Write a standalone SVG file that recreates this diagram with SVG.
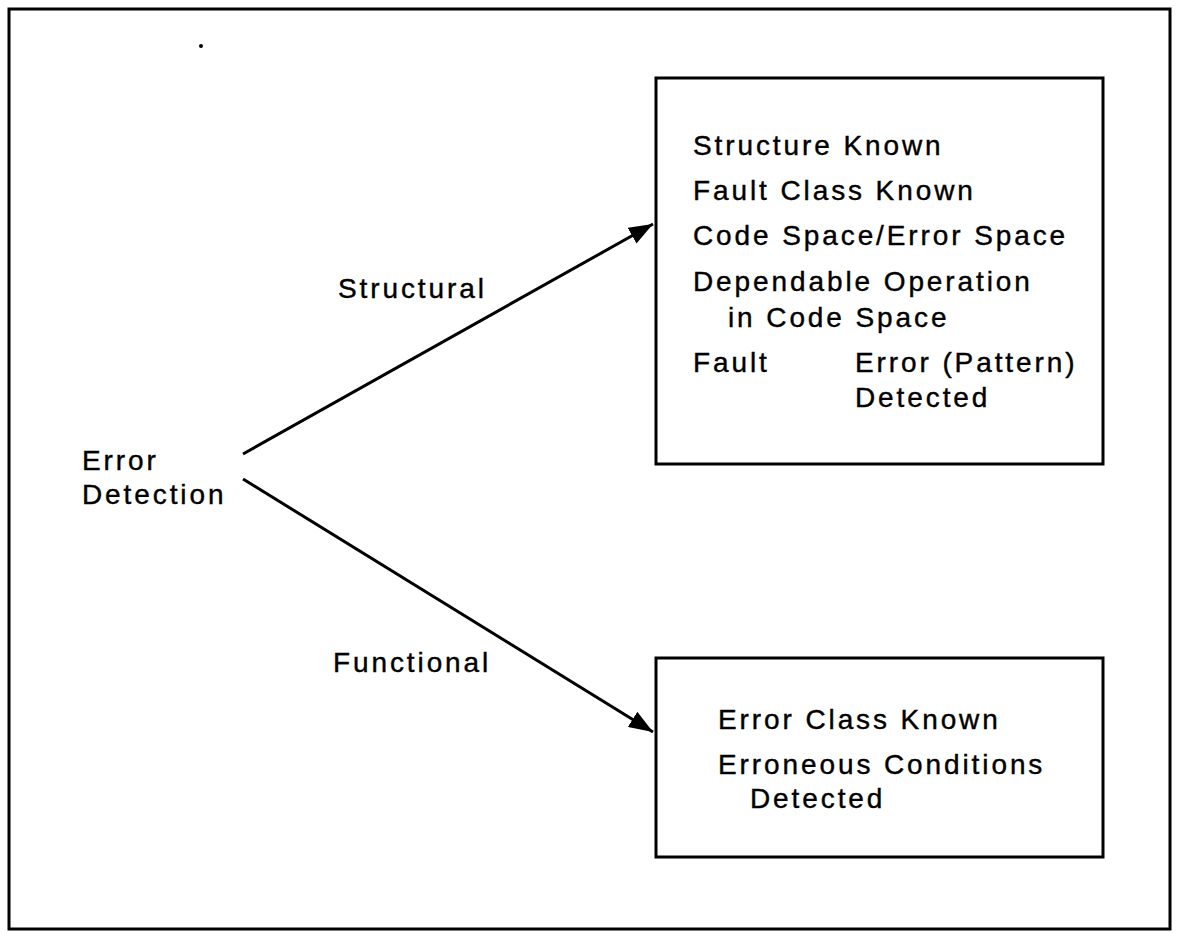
<svg xmlns="http://www.w3.org/2000/svg" width="1178" height="933" viewBox="0 0 1178 933">
<style>
  .frame { fill: none; stroke: #000; stroke-width: 3; }
  .box { fill: #fff; stroke: #000; stroke-width: 3; }
  .conn { fill: none; stroke: #000; stroke-width: 3; }
  text { font-family: "Liberation Sans", Arial, sans-serif; font-size: 28px; fill: #000; stroke: #000; stroke-width: 0.4; letter-spacing: 2.9px; }
</style>
<defs>
  <marker id="arrow" markerUnits="userSpaceOnUse" markerWidth="26" markerHeight="18" refX="24" refY="9" orient="auto">
    <path d="M0,0 L24,9 L0,18 Z" fill="#000"/>
  </marker>
</defs>
<rect width="1178" height="933" fill="#fff"/>
<rect class="frame" x="9" y="9" width="1161" height="920"/>
<circle cx="201" cy="46" r="2" fill="#000"/>
<g id="connectors">
  <line class="conn" x1="243" y1="454" x2="653" y2="224" marker-end="url(#arrow)"/>
  <text x="338" y="298">Structural</text>
  <line class="conn" x1="243" y1="479" x2="653" y2="732" marker-end="url(#arrow)"/>
  <text x="333" y="672">Functional</text>
</g>
<g id="error-detection">
  <text x="82" y="470">Error</text>
  <text x="82" y="504">Detection</text>
</g>
<g id="structural-box">
  <rect class="box" x="656" y="78" width="447" height="386"/>
  <text x="693" y="155">Structure Known</text>
  <text x="693" y="200">Fault Class Known</text>
  <text x="693" y="245">Code Space/Error Space</text>
  <text x="693" y="291">Dependable Operation</text>
  <text x="728" y="327">in Code Space</text>
  <text x="693" y="372">Fault</text>
  <text x="855" y="372">Error (Pattern)</text>
  <text x="855" y="407">Detected</text>
</g>
<g id="functional-box">
  <rect class="box" x="656" y="658" width="447" height="199"/>
  <text x="718" y="729">Error Class Known</text>
  <text x="718" y="774">Erroneous Conditions</text>
  <text x="750" y="808">Detected</text>
</g>
</svg>
